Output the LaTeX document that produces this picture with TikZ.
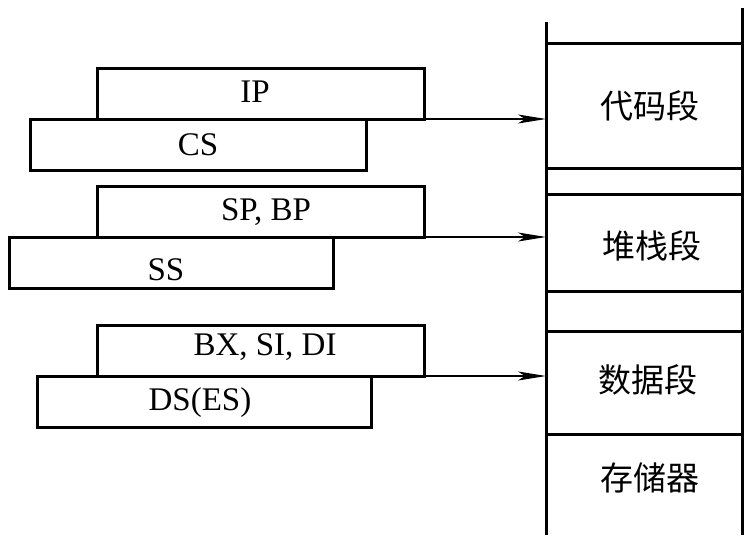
\documentclass[tikz,border=0pt]{standalone}
\usepackage{fontspec}
\setmainfont{Liberation Serif}
\newfontfamily\cjk{Noto Sans CJK SC}
\usetikzlibrary{arrows.meta}
\begin{document}
\begin{tikzpicture}[x=1pt,y=-1pt,
  reg/.style={draw, line width=3pt, fill=white, inner sep=0pt, outer sep=0pt, anchor=north west, minimum width=#1},
  regh/.style={minimum height=51pt},
  lbl/.style={inner sep=0pt, font=\fontsize{33}{33}\selectfont},
  seg/.style={inner sep=0pt, font=\cjk\fontsize{33}{33}\selectfont},
  memline/.style={line width=3pt},
  ptr/.style={line width=1.2pt, -{Stealth[length=28pt,width=9pt,inset=7pt]}}]
\useasboundingbox (0,0) rectangle (752,544);
% memory column
\coordinate (mlt) at (546,22);
\coordinate (mlb) at (546,535);
\coordinate (mrt) at (742,8);
\coordinate (mrb) at (742,535);
\draw[memline] (mlt) -- (mlb);
\draw[memline] (mrt) -- (mrb);
\foreach \yy in {43,168,194,291,331,434}
  \draw[memline] (546,\yy) -- (742,\yy);
\node[seg] (code) at (650,106) {代码段};
\node[seg] (stack) at (652,246) {堆栈段};
\node[seg] (data) at (648,380) {数据段};
\node[seg] (store) at (650,478) {存储器};
% registers group 1
\node[reg=327pt, regh] (ip) at (97,68) {};
\node[reg=336pt, regh] (cs) at (30,119) {};
\node[lbl] (ipt) at (255,92) {IP};
\node[lbl] (cst) at (198,145) {CS};
% group 2
\node[reg=327pt, regh] (sp) at (97,186) {};
\node[reg=324pt, regh] (ss) at (9,237) {};
\node[lbl] (spt) at (266,212) {SP, BP};
\node[lbl] (sst) at (166,270) {SS};
% group 3
\node[reg=327pt, regh] (bx) at (97,325) {};
\node[reg=334pt, regh] (ds) at (37,376) {};
\node[lbl] (bxt) at (265,347) {BX, SI, DI};
\node[lbl] (dst) at (200,403) {DS(ES)};
% pointers
\draw[ptr] (ip.south east) -- (ip.south east -| mlt);
\draw[ptr] (sp.south east) -- (sp.south east -| mlt);
\draw[ptr] (bx.south east) -- (bx.south east -| mlt);
\end{tikzpicture}
\end{document}
